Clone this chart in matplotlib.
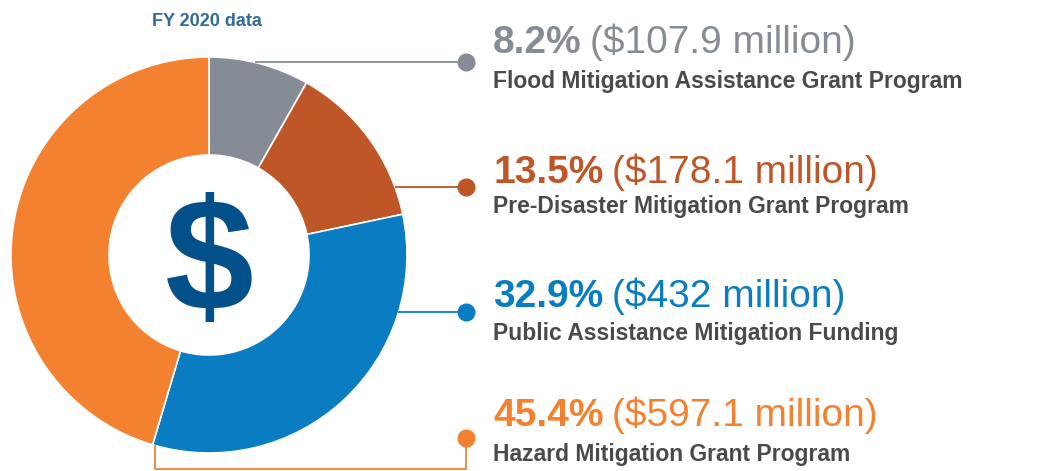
import matplotlib
matplotlib.use("Agg")
import matplotlib.pyplot as plt

plt.rcParams['font.family'] = ['Liberation Sans', 'DejaVu Sans']

# FY 2020 mitigation funding
programs = ["Flood Mitigation Assistance Grant Program",
            "Pre-Disaster Mitigation Grant Program",
            "Public Assistance Mitigation Funding",
            "Hazard Mitigation Grant Program"]
shares = [8.2, 13.5, 32.9, 45.4]
amounts = ["$107.9 million", "$178.1 million", "$432 million", "$597.1 million"]
colors = ["#868c95", "#be5628", "#0a7dc2", "#f4812f"]

W, H = 1057, 471
fig = plt.figure(figsize=(W / 100, H / 100), dpi=100)
ax = fig.add_axes([0, 0, 1, 1])

cx, cy = 209, H - 255
ax.pie(shares, colors=colors, startangle=90, counterclock=False,
       center=(cx, cy), radius=198, frame=True,
       wedgeprops=dict(width=98, edgecolor="white", linewidth=1.2))
ax.set_xlim(0, W)
ax.set_ylim(0, H)
ax.set_aspect("equal")
ax.axis("off")

ax.text(cx, cy - 13, "$", fontsize=115, fontweight="bold", color="#03508a",
        ha="center", va="center")
ax.text(207, H - 21, "FY 2020 data", fontsize=13, fontweight="bold",
        color="#2f6a9c", ha="center", va="center")

# connectors (pixel rows from the top)
dot_x = 466
line_rows = [62, 187, 312]
line_starts = [255, 395, 398]
for i in range(3):
    y = H - line_rows[i]
    ax.plot([line_starts[i], dot_x], [y, y], color=colors[i], lw=1.3,
            solid_capstyle="butt", zorder=1)
    ax.plot(dot_x, y, "o", ms=12, color=colors[i], zorder=3)
# bottom bracket for the largest slice
ax.plot([155, 155, dot_x, dot_x], [H - 446, H - 469, H - 469, H - 438],
        color=colors[3], lw=1.3, zorder=1)
ax.plot(dot_x, H - 438, "o", ms=12, color=colors[3], zorder=3)

# labels
big_rows = [53, 183, 307, 426]
sub_rows = [88, 213, 340, 461]
for i in range(4):
    t = ax.text(493, H - big_rows[i], f"{shares[i]}%", fontsize=28,
                fontweight="bold", color=colors[i], ha="left", va="baseline")
    ax.annotate(f"({amounts[i]})", xy=(1, 0), xycoords=t, xytext=(6, 0),
                textcoords="offset points", fontsize=28, color=colors[i],
                ha="left", va="bottom")
    ax.text(493, H - sub_rows[i], programs[i], fontsize=16.5,
            fontweight="bold", color="#4a4a4a", ha="left", va="baseline")

fig.savefig("out.png", dpi=100)
